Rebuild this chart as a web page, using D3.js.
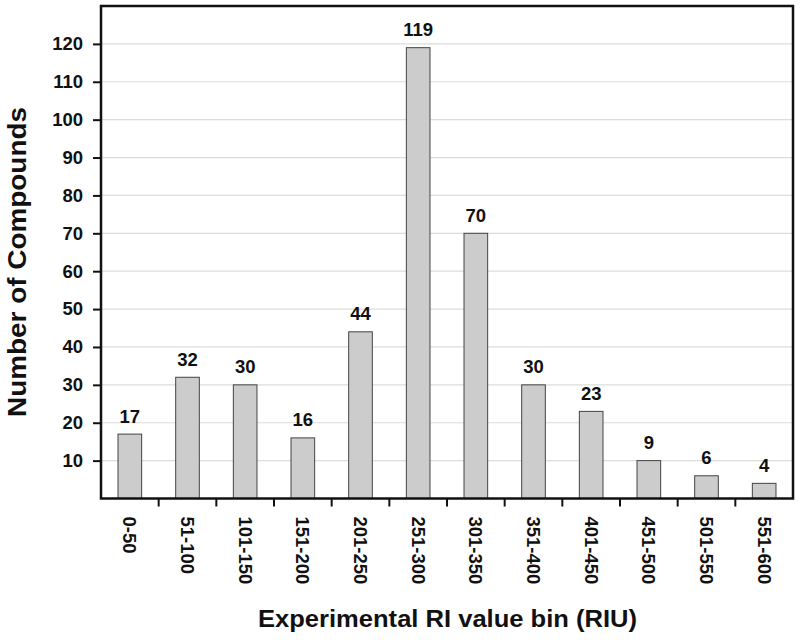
<!DOCTYPE html>
<html><head><meta charset="utf-8">
<script src="https://cdn.jsdelivr.net/npm/d3@7/dist/d3.min.js"></script>
<style>body{margin:0;background:#fff}svg{display:block}text{font-family:"Liberation Sans",Arial,sans-serif;font-weight:bold;fill:#111}</style>
</head><body><svg id="c" width="800" height="640"></svg>
<script>
const categories = ["0-50","51-100","101-150","151-200","201-250","251-300","301-350","351-400","401-450","451-500","501-550","551-600"];
const values = [17,32,30,16,44,119,70,30,23,10,6,4];
const valueLabels = ["17","32","30","16","44","119","70","30","23","9","6","4"];
const yTicks = [10,20,30,40,50,60,70,80,90,100,110,120];

const svg = d3.select("#c");
const L=101, R=793, T=6, B=498.5;
const x = d3.scaleBand().domain(categories).range([L,R]).paddingInner(0.59).paddingOuter(0.295);
const xb = d3.scaleBand().domain(categories).range([L,R]);
const y = d3.scaleLinear().domain([0,130]).range([B,T]);

// gridlines
svg.append("g").selectAll("line").data(yTicks).join("line")
  .attr("x1",L).attr("x2",R).attr("y1",d=>y(d)).attr("y2",d=>y(d))
  .attr("stroke","#dcdcdc").attr("stroke-width",1.2);

// bars
svg.append("g").selectAll("rect").data(values).join("rect")
  .attr("x",(d,i)=>x(categories[i])).attr("width",x.bandwidth())
  .attr("y",d=>y(d)).attr("height",d=>B-y(d))
  .attr("fill","#cccccc").attr("stroke","#444").attr("stroke-width",1);

// value labels
svg.append("g").selectAll("text").data(values).join("text")
  .attr("x",(d,i)=>x(categories[i])+x.bandwidth()/2).attr("y",d=>y(d)-11.5)
  .attr("text-anchor","middle").attr("font-size",18.5).text((d,i)=>valueLabels[i]);

// y axis
const yAxis = svg.append("g").attr("transform",`translate(${L},0)`)
  .call(d3.axisLeft(y).tickValues(yTicks).tickSize(8).tickPadding(10));
yAxis.select(".domain").remove();
yAxis.selectAll("line").attr("stroke","#111").attr("stroke-width",2);
yAxis.selectAll("text").attr("font-size",18.5).attr("font-family","Liberation Sans, Arial, sans-serif").attr("font-weight","bold").attr("fill","#111");

// x axis ticks at bin boundaries
const xAxis = svg.append("g").attr("transform",`translate(0,${B})`)
  .call(d3.axisBottom(xb).tickSize(0).tickPadding(0));
xAxis.select(".domain").remove();
xAxis.selectAll(".tick text").attr("font-size",18.5).attr("font-family","Liberation Sans, Arial, sans-serif").attr("font-weight","bold").attr("fill","#111")
  .attr("transform","translate(0,18) rotate(90)").attr("text-anchor","start").attr("dy","0.35em").attr("y",0).attr("x",0);
svg.append("g").selectAll("line").data(categories.slice(1)).join("line")
  .attr("x1",d=>xb(d)).attr("x2",d=>xb(d)).attr("y1",B).attr("y2",B+8)
  .attr("stroke","#111").attr("stroke-width",2);

// frame
svg.append("rect").attr("x",L).attr("y",T).attr("width",R-L).attr("height",B-T)
  .attr("fill","none").attr("stroke","#111").attr("stroke-width",2.5);

// titles
svg.append("text").attr("x",447.5).attr("y",627).attr("text-anchor","middle").attr("font-size",24)
  .attr("textLength",379).attr("lengthAdjust","spacingAndGlyphs").text("Experimental RI value bin (RIU)");
svg.append("text").attr("transform","translate(25.5,262) rotate(-90)").attr("text-anchor","middle").attr("font-size",25)
  .attr("textLength",310).attr("lengthAdjust","spacingAndGlyphs").text("Number of Compounds");
</script></body></html>
